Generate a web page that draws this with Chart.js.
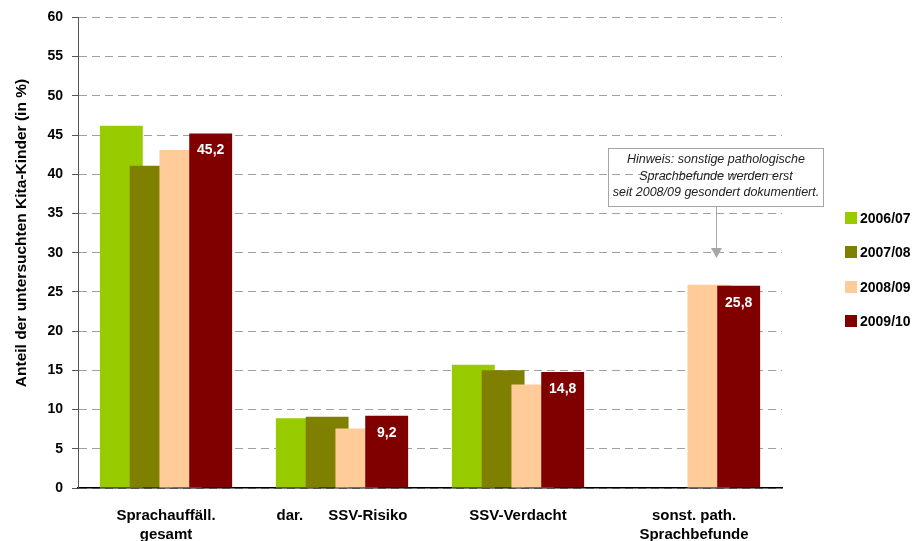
<!DOCTYPE html>
<html>
<head>
<meta charset="utf-8">
<script src="https://cdn.jsdelivr.net/npm/chart.js@4.4.0/dist/chart.umd.min.js"></script>
<style>
html,body{margin:0;padding:0;background:#fff;}
#wrap{width:916px;height:541px;position:relative;}
</style>
</head>
<body>
<div id="wrap"><canvas id="c" width="916" height="541"></canvas></div>
<script>
const categories = [["Sprachauffäll.", "gesamt"], "dar.      SSV-Risiko", "SSV-Verdacht", ["sonst. path.", "Sprachbefunde"]];
const seriesNames = ["2006/07", "2007/08", "2008/09", "2009/10"];
const values0607 = [46.2, 8.9, 15.7, null];
const values0708 = [41.1, 9.1, 15.0, null];
const values0809 = [43.1, 7.6, 13.2, 25.9];
const values0910 = [45.2, 9.2, 14.8, 25.8];
const yTicks = [0, 5, 10, 15, 20, 25, 30, 35, 40, 45, 50, 55, 60];
const yTitle = "Anteil der untersuchten Kita-Kinder (in %)";
const noteLines = ["Hinweis: sonstige pathologische", "Sprachbefunde werden erst", "seit 2008/09 gesondert dokumentiert."];
const colors = ["#99CC00", "#808000", "#FFCC99", "#800000"];

const FONT = "'Liberation Sans', Arial, sans-serif";

const drawOrderPlugin = {
  id: 'drawOrder',
  beforeDatasetsDraw(chart) {
    for (let i = 0; i < chart.data.datasets.length; i++) {
      const meta = chart.getDatasetMeta(i);
      if (!meta.hidden) meta.controller.draw();
    }
    return false;
  }
};

const extrasPlugin = {
  id: 'extras',
  afterDraw(chart) {
    const ctx = chart.ctx;
    // data labels on last series
    const meta = chart.getDatasetMeta(3);
    ctx.save();
    ctx.fillStyle = '#fff';
    ctx.font = "bold 14px " + FONT;
    ctx.textAlign = 'center';
    ctx.textBaseline = 'middle';
    meta.data.forEach((bar, i) => {
      const v = values0910[i];
      if (v == null) return;
      ctx.fillText(v.toFixed(1).replace('.', ','), bar.x, bar.y + 17);
    });
    ctx.restore();

    // y axis title
    ctx.save();
    ctx.translate(22, 233);
    ctx.rotate(-Math.PI / 2);
    ctx.font = "bold 15.5px " + FONT;
    ctx.fillStyle = '#000';
    ctx.textAlign = 'center';
    ctx.textBaseline = 'middle';
    ctx.fillText(yTitle, 0, 0);
    ctx.restore();

    // legend
    ctx.save();
    ctx.font = "bold 14px " + FONT;
    ctx.textBaseline = 'middle';
    ctx.textAlign = 'left';
    const legY = [218, 252, 287, 321];
    seriesNames.forEach((n, i) => {
      ctx.fillStyle = colors[i];
      ctx.fillRect(845, legY[i] - 6, 12, 12);
      ctx.fillStyle = '#000';
      ctx.fillText(n, 860, legY[i] + 1);
    });
    ctx.restore();

    // annotation box
    ctx.save();
    ctx.strokeStyle = '#a6a6a6';
    ctx.lineWidth = 1;
    ctx.strokeRect(608.5, 148.5, 215, 58);
    ctx.font = "italic 12.5px " + FONT;
    ctx.fillStyle = '#222';
    ctx.textAlign = 'center';
    ctx.textBaseline = 'middle';
    noteLines.forEach((t, i) => ctx.fillText(t, 716, 160 + i * 16.5));
    // arrow
    ctx.strokeStyle = '#a6a6a6';
    ctx.fillStyle = '#a6a6a6';
    ctx.beginPath();
    ctx.moveTo(716.5, 207);
    ctx.lineTo(716.5, 250);
    ctx.stroke();
    ctx.beginPath();
    ctx.moveTo(711, 248);
    ctx.lineTo(722, 248);
    ctx.lineTo(716.5, 258);
    ctx.closePath();
    ctx.fill();
    ctx.restore();
  }
};

const datasets = [values0607, values0708, values0809, values0910].map((d, i) => ({
  label: seriesNames[i],
  data: d,
  backgroundColor: colors[i],
  borderWidth: 0,
  categoryPercentage: 0.677,
  barPercentage: 1.44
}));

new Chart(document.getElementById('c'), {
  type: 'bar',
  data: { labels: categories, datasets },
  options: {
    responsive: false,
    animation: false,
    events: [],
    layout: { padding: { top: 15, right: 134, left: 0, bottom: 0 } },
    plugins: { legend: { display: false }, tooltip: { enabled: false } },
    scales: {
      x: {
        grid: { display: false, drawTicks: false },
        border: { display: true, color: '#000', width: 1.5 },
        ticks: {
          color: '#000',
          font: { family: FONT, size: 15, weight: 'bold', lineHeight: 1.27 },
          padding: 18,
          maxRotation: 0,
          autoSkip: false
        },
        afterFit(s) { s.height = 53; }
      },
      y: {
        min: 0, max: 60,
        afterBuildTicks(s) { s.ticks = yTicks.map(v => ({ value: v })); },
        grid: {
          color: '#a0a0a0',
          lineWidth: 1,
          tickLength: 6,
          tickColor: '#555',
          tickBorderDash: []
        },
        border: { display: true, color: '#555', width: 1, dash: [8, 5] },
        ticks: {
          color: '#000',
          font: { family: FONT, size: 14, weight: 'bold' },
          padding: 9
        },
        afterFit(s) { s.width = 78; }
      }
    }
  },
  plugins: [drawOrderPlugin, extrasPlugin]
});
</script>
</body>
</html>
